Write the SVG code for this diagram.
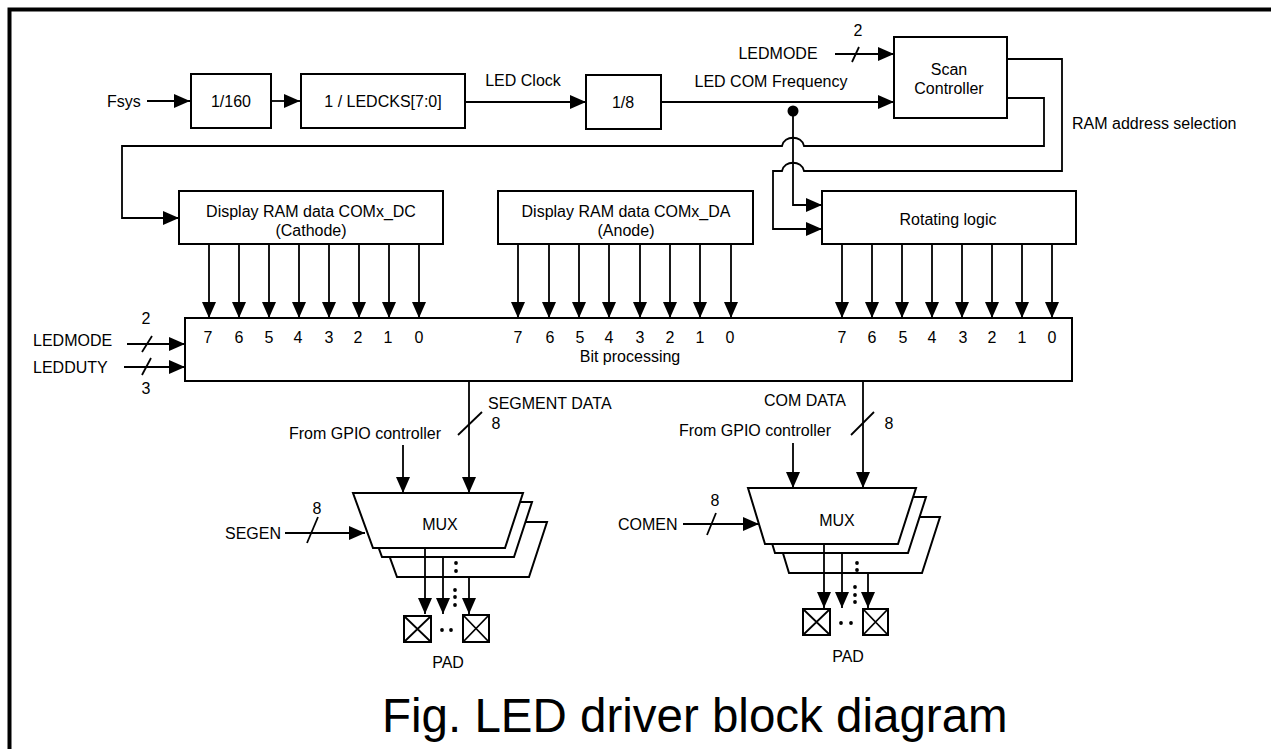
<svg xmlns="http://www.w3.org/2000/svg" width="1271" height="749" viewBox="0 0 1271 749">
<style>
.box{fill:#fff;stroke:#000;stroke-width:2}
.ln{fill:none;stroke:#000;stroke-width:1.8}
.la{fill:none;stroke:#000;stroke-width:1.8;marker-end:url(#ah)}
.t{font-family:"Liberation Sans",Arial,sans-serif;font-size:16px;fill:#000}
.m{text-anchor:middle}
.dot{fill:#000}
</style>
<defs>
<marker id="ah" markerUnits="userSpaceOnUse" markerWidth="16" markerHeight="14" refX="16" refY="7" orient="auto">
<path d="M0,0 L16,7 L0,14 z" fill="#000"/>
</marker>
</defs>
<rect x="0" y="0" width="1271" height="749" fill="#fff"/>
<path d="M9.5,749 V9.5 H1271" fill="none" stroke="#000" stroke-width="4"/>

<g id="connectors">
<line class="la" x1="147" y1="101" x2="190" y2="101"/>
<line class="la" x1="271" y1="101" x2="300" y2="101"/>
<line class="la" x1="465" y1="102" x2="586" y2="102"/>
<line class="la" x1="661" y1="102" x2="894" y2="102"/>
<line class="la" x1="835" y1="54" x2="894" y2="54"/>
<line class="ln" x1="852" y1="62" x2="859" y2="47"/>
<circle class="dot" cx="793" cy="111" r="5.5"/>
<path class="la" d="M793,111 V205 H822"/>
<path class="la" d="M1007,98 H1044 V146 H804 C802,135 784,135 782,146 H122 V218 H179"/>
<path class="la" d="M1003,59 H1062 V171 H804 C802,160 784,160 782,171 H773 V229 H822"/>
<g id="dc-bits">
<line class="la" x1="209" y1="244" x2="209" y2="318"/>
<line class="la" x1="239" y1="244" x2="239" y2="318"/>
<line class="la" x1="269" y1="244" x2="269" y2="318"/>
<line class="la" x1="299" y1="244" x2="299" y2="318"/>
<line class="la" x1="329" y1="244" x2="329" y2="318"/>
<line class="la" x1="359" y1="244" x2="359" y2="318"/>
<line class="la" x1="389" y1="244" x2="389" y2="318"/>
<line class="la" x1="419" y1="244" x2="419" y2="318"/>
</g>
<g id="da-bits">
<line class="la" x1="518" y1="244" x2="518" y2="318"/>
<line class="la" x1="549" y1="244" x2="549" y2="318"/>
<line class="la" x1="579" y1="244" x2="579" y2="318"/>
<line class="la" x1="609" y1="244" x2="609" y2="318"/>
<line class="la" x1="640" y1="244" x2="640" y2="318"/>
<line class="la" x1="670" y1="244" x2="670" y2="318"/>
<line class="la" x1="700" y1="244" x2="700" y2="318"/>
<line class="la" x1="731" y1="244" x2="731" y2="318"/>
</g>
<g id="rot-bits">
<line class="la" x1="842" y1="244" x2="842" y2="318"/>
<line class="la" x1="872" y1="244" x2="872" y2="318"/>
<line class="la" x1="902" y1="244" x2="902" y2="318"/>
<line class="la" x1="932" y1="244" x2="932" y2="318"/>
<line class="la" x1="962" y1="244" x2="962" y2="318"/>
<line class="la" x1="992" y1="244" x2="992" y2="318"/>
<line class="la" x1="1022" y1="244" x2="1022" y2="318"/>
<line class="la" x1="1052" y1="244" x2="1052" y2="318"/>
</g>
<line class="la" x1="127" y1="344" x2="185" y2="344"/>
<line class="ln" x1="142" y1="352" x2="152" y2="336"/>
<line class="la" x1="124" y1="367" x2="185" y2="367"/>
<line class="ln" x1="142" y1="375" x2="151" y2="358"/>
<line class="la" x1="469" y1="381" x2="469" y2="493"/>
<line class="ln" x1="458" y1="435" x2="482" y2="412"/>
<line class="la" x1="403" y1="445" x2="403" y2="493"/>
<line class="la" x1="285" y1="533" x2="365" y2="533"/>
<line class="ln" x1="307" y1="543" x2="318" y2="517"/>
<line class="la" x1="863" y1="381" x2="863" y2="488"/>
<line class="ln" x1="851" y1="435" x2="874" y2="412"/>
<line class="la" x1="793" y1="443" x2="793" y2="488"/>
<line class="la" x1="683" y1="524" x2="759" y2="524"/>
<line class="ln" x1="707" y1="535" x2="716" y2="513"/>
</g>

<g id="div160">
<rect class="box" x="191" y="74" width="80" height="54"/>
<text class="t m" x="231" y="107">1/160</text>
</g>
<g id="ledcks">
<rect class="box" x="301" y="74" width="164" height="54"/>
<text class="t m" x="383" y="107">1 / LEDCKS[7:0]</text>
</g>
<g id="div8">
<rect class="box" x="586" y="75" width="75" height="54"/>
<text class="t m" x="623" y="108">1/8</text>
</g>
<g id="scan">
<rect class="box" x="894" y="37" width="113" height="81"/>
<text class="t m" x="949" y="75">Scan</text>
<text class="t m" x="949" y="94">Controller</text>
</g>
<g id="ramdc">
<rect class="box" x="179" y="191" width="264" height="53"/>
<text class="t m" x="311" y="217">Display RAM data COMx_DC</text>
<text class="t m" x="311" y="236">(Cathode)</text>
</g>
<g id="ramda">
<rect class="box" x="498" y="191" width="255" height="53"/>
<text class="t m" x="626" y="217">Display RAM data COMx_DA</text>
<text class="t m" x="626" y="236">(Anode)</text>
</g>
<g id="rotating">
<rect class="box" x="822" y="191" width="254" height="53"/>
<text class="t m" x="948" y="225">Rotating logic</text>
</g>
<g id="bitproc">
<rect class="box" x="185" y="318" width="887" height="63"/>
<g class="t m">
<text x="208" y="343">7</text><text x="239" y="343">6</text><text x="269" y="343">5</text><text x="298" y="343">4</text><text x="329" y="343">3</text><text x="358" y="343">2</text><text x="388" y="343">1</text><text x="419" y="343">0</text>
<text x="518" y="343">7</text><text x="550" y="343">6</text><text x="580" y="343">5</text><text x="609" y="343">4</text><text x="640" y="343">3</text><text x="670" y="343">2</text><text x="700" y="343">1</text><text x="730" y="343">0</text>
<text x="842" y="343">7</text><text x="872" y="343">6</text><text x="903" y="343">5</text><text x="932" y="343">4</text><text x="963" y="343">3</text><text x="992" y="343">2</text><text x="1022" y="343">1</text><text x="1052" y="343">0</text>
</g>
<text class="t m" x="630" y="362">Bit processing</text>
</g>

<g id="muxseg">
<polygon class="box" points="377,522 547,522 529,577 397,577"/>
<polygon class="box" points="362,502 532,502 514,557 382,557"/>
<polygon class="box" points="353,493 523,493 505,548 373,548"/>
<text class="t m" x="440" y="530">MUX</text>
</g>
<g id="padseg">
<line class="la" x1="425" y1="548" x2="425" y2="614"/>
<line class="la" x1="443" y1="557" x2="443" y2="614"/>
<line class="la" x1="469" y1="577" x2="469" y2="614"/>
<circle class="dot" cx="456" cy="563" r="1.9"/><circle class="dot" cx="456" cy="571" r="1.9"/>
<circle class="dot" cx="455" cy="590" r="1.9"/><circle class="dot" cx="455" cy="597" r="1.9"/><circle class="dot" cx="455" cy="605" r="1.9"/>
<rect class="box" x="404" y="616" width="27" height="26"/>
<path class="ln" d="M404,616 L431,642 M431,616 L404,642"/>
<rect class="box" x="463" y="615" width="26" height="27"/>
<path class="ln" d="M463,615 L489,642 M489,615 L463,642"/>
<circle class="dot" cx="442" cy="630" r="1.9"/><circle class="dot" cx="451" cy="630" r="1.9"/>
<text class="t m" x="448" y="668">PAD</text>
</g>

<g id="muxcom">
<polygon class="box" points="772,517 940,517 922,573 789,573"/>
<polygon class="box" points="758,497 926,497 908,553 775,553"/>
<polygon class="box" points="748,488 916,488 898,544 765,544"/>
<text class="t m" x="837" y="526">MUX</text>
</g>
<g id="padcom">
<line class="la" x1="824" y1="544" x2="824" y2="608"/>
<line class="la" x1="842" y1="553" x2="842" y2="608"/>
<line class="la" x1="868" y1="573" x2="868" y2="608"/>
<circle class="dot" cx="857" cy="563" r="1.9"/><circle class="dot" cx="857" cy="570" r="1.9"/>
<circle class="dot" cx="855" cy="587" r="1.9"/><circle class="dot" cx="855" cy="595" r="1.9"/><circle class="dot" cx="855" cy="602" r="1.9"/>
<rect class="box" x="803" y="609" width="27" height="26"/>
<path class="ln" d="M803,609 L830,635 M830,609 L803,635"/>
<rect class="box" x="863" y="609" width="25" height="26"/>
<path class="ln" d="M863,609 L888,635 M888,609 L863,635"/>
<circle class="dot" cx="841" cy="623" r="1.9"/><circle class="dot" cx="851" cy="623" r="1.9"/>
<text class="t m" x="848" y="662">PAD</text>
</g>

<g id="labels">
<text class="t" x="107" y="107">Fsys</text>
<text class="t m" x="523" y="86">LED Clock</text>
<text class="t m" x="771" y="87">LED COM Frequency</text>
<text class="t m" x="778" y="59">LEDMODE</text>
<text class="t m" x="858" y="36">2</text>
<text class="t" x="1072" y="129">RAM address selection</text>
<text class="t" x="33" y="346">LEDMODE</text>
<text class="t m" x="146" y="324">2</text>
<text class="t" x="33" y="373">LEDDUTY</text>
<text class="t m" x="146" y="394">3</text>
<text class="t" x="488" y="409">SEGMENT DATA</text>
<text class="t m" x="496" y="429">8</text>
<text class="t m" x="365" y="439">From GPIO controller</text>
<text class="t" x="225" y="539">SEGEN</text>
<text class="t m" x="317" y="514">8</text>
<text class="t m" x="805" y="406">COM DATA</text>
<text class="t m" x="889" y="429">8</text>
<text class="t m" x="755" y="436">From GPIO controller</text>
<text class="t" x="618" y="530">COMEN</text>
<text class="t m" x="715" y="506">8</text>
</g>

<text x="382" y="732" style="font-family:'Liberation Sans',Arial,sans-serif;font-size:47.5px;fill:#000">Fig. LED driver block diagram</text>
</svg>
